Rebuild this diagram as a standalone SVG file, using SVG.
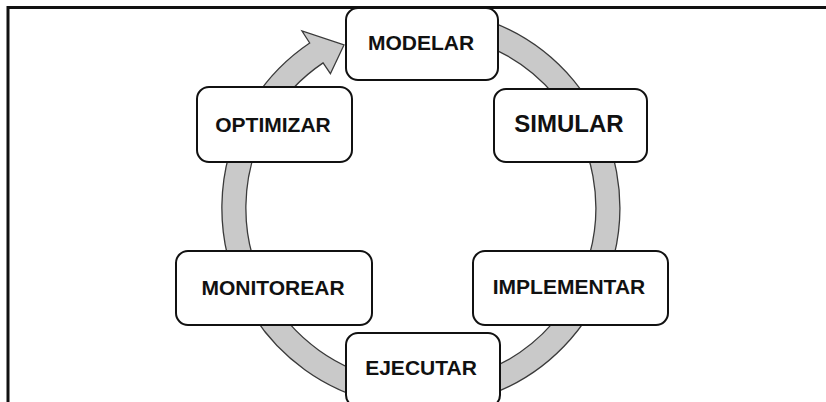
<svg xmlns="http://www.w3.org/2000/svg" width="826" height="402" viewBox="0 0 826 402">
  <style>
    .box { fill: #ffffff; stroke: #111111; stroke-width: 2; }
    .lbl { font-family: "Liberation Sans", Arial, sans-serif; font-weight: bold; font-size: 21px; fill: #111111; text-anchor: middle; }
    .cycle { fill: #c9c9c9; stroke: #3a3a3a; stroke-width: 1.3; stroke-linejoin: miter; }
    .frame { fill: none; stroke: #111111; stroke-width: 3; }
  </style>
  <rect width="826" height="402" fill="#ffffff"/>

  <!-- page frame (top and left edges) -->
  <path class="frame" d="M 8 402 L 8 7.5 L 826 7.5"/>

  <!-- circular process arrow -->
  <g id="connectors">
    <path class="cycle" d="M 403.6 9.8 A 199 199 0 1 1 309.7 43 L 302 31 L 344 45 L 330.4 73.7 L 323.1 62.9 A 175 175 0 1 0 405.7 33.7 Z"/>
  </g>

  <g id="modelar">
    <rect class="box" x="346" y="8" width="152" height="72" rx="12"/>
    <text class="lbl" x="421" y="50">MODELAR</text>
  </g>
  <g id="simular">
    <rect class="box" x="494" y="89" width="153" height="73" rx="12"/>
    <text class="lbl" x="569" y="132" style="font-size:24px">SIMULAR</text>
  </g>
  <g id="implementar">
    <rect class="box" x="473" y="251" width="195" height="74" rx="12"/>
    <text class="lbl" x="569" y="294">IMPLEMENTAR</text>
  </g>
  <g id="ejecutar">
    <rect class="box" x="346" y="333" width="154" height="74" rx="12"/>
    <text class="lbl" x="421" y="375">EJECUTAR</text>
  </g>
  <g id="monitorear">
    <rect class="box" x="176" y="251" width="196" height="74" rx="12"/>
    <text class="lbl" x="273" y="295">MONITOREAR</text>
  </g>
  <g id="optimizar">
    <rect class="box" x="197" y="87" width="155" height="75" rx="12"/>
    <text class="lbl" x="273" y="132">OPTIMIZAR</text>
  </g>
</svg>
